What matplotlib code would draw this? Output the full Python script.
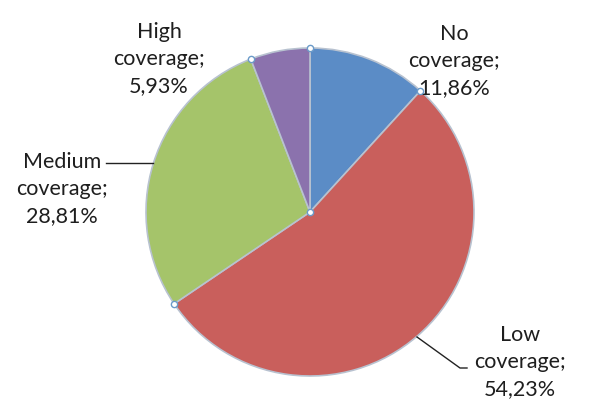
import numpy as np
import matplotlib.pyplot as plt

# Coverage shares (%)
categories = ["No\ncoverage;", "Low\ncoverage;", "Medium\ncoverage;", "High\ncoverage;"]
values = [11.86, 54.23, 28.81, 5.93]
value_labels = ["11,86%", "54,23%", "28,81%", "5,93%"]
colors = ["#5b8cc6", "#c95f5c", "#a5c46a", "#8b72ad"]

W, H = 589, 416
fig = plt.figure(figsize=(W / 100, H / 100), dpi=100)
ax = fig.add_axes([0, 0, 1, 1])
ax.set_xlim(0, W)
ax.set_ylim(0, H)
ax.set_aspect("equal")
ax.axis("off")

cx, cy, r = 310, H - 212, 164
wedges, _ = ax.pie(values, colors=colors, startangle=90, counterclock=False,
                   center=(cx, cy), radius=r,
                   wedgeprops=dict(edgecolor="#b8c2d0", linewidth=1.2))
ax.set_xlim(0, W)
ax.set_ylim(0, H)

# selection handles at the slice borders and centre
for w in wedges:
    t = np.deg2rad(w.theta1)
    ax.plot(cx + r * np.cos(t), cy + r * np.sin(t), "o", ms=4.5,
            mfc="white", mec="#6b9bc9", mew=1.0, zorder=5)
ax.plot(cx, cy, "o", ms=4.5, mfc="white", mec="#6b9bc9", mew=1.0, zorder=5)

# labels (text centre positions in pixels from top-left)
label_pos = [(454, 61), (520, 362), (62, 189), (159, 59)]
for cat, vl, (x, y) in zip(categories, value_labels, label_pos):
    ax.text(x, H - y, cat + "\n" + vl, ha="center", va="center",
            fontsize=15.5, family="Lato", color="#1e1e1e", linespacing=1.42)

# leader lines
ax.plot([106, 153], [H - 163, H - 163], color="#222222", lw=1.0)
ax.plot([417, 460, 467], [H - 337, H - 368, H - 368], color="#222222", lw=1.0)

fig.savefig("out.png", dpi=100)
